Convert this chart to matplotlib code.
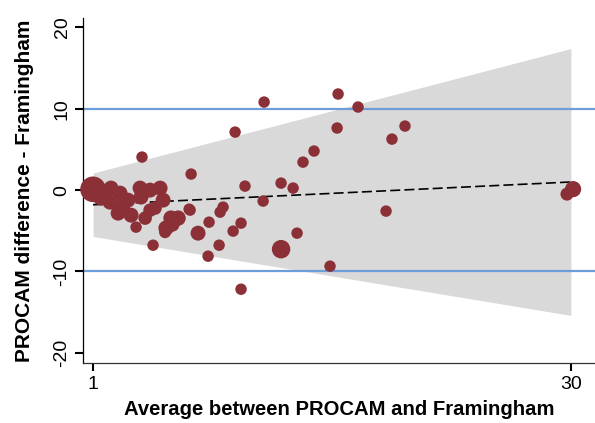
import numpy as np
import matplotlib
matplotlib.use("Agg")
import matplotlib.pyplot as plt

plt.rcParams['font.family'] = ['Liberation Sans', 'DejaVu Sans']
plt.rcParams['axes.unicode_minus'] = False

# average (x) and difference (y) for each subject, s = weight of the marker
media = [1.0, 1.49, 2.09, 2.64, 2.03, 3.12, 2.52, 2.82, 3.31, 3.85,
         3.91, 4.46, 5.07, 5.25, 3.61, 4.16, 4.46, 4.76, 5.73, 5.43,
         3.97, 6.95, 4.64, 6.16, 5.79, 5.37, 6.89, 7.37,
         10.22, 12.41, 13.14, 13.74, 14.41, 11.32, 6.83, 8.89, 8.71, 8.04,
         9.98, 9.50, 13.38, 8.65, 7.98, 12.41, 9.98, 15.38, 18.78, 11.38,
         15.87, 17.08, 9.62, 15.81, 19.93, 19.14, 29.76, 30.13]
diferenca = [0.1, -0.86, 0.25, -0.37, -1.48, -1.23, -2.83, -1.85, -3.08, 0.25,
             -0.86, 0.0, 0.25, -1.23, -4.55, -3.44, -2.46, -2.21, -3.44, -4.67,
             4.06, 1.97, -6.77, -3.44, -4.18, -5.17, -2.46, -5.29,
             0.49, 0.86, 0.25, 3.44, 4.80, -1.35, -2.34, -2.09, -2.71, -3.94,
             -4.06, -5.04, -5.29, -6.77, -8.12, -7.26, -12.18, -9.35, -2.58, 10.82,
             11.81, 10.21, 7.13, 7.63, 7.87, 6.27, -0.49, 0.12]
peso = [5.0, 2.2, 1.7, 1.7, 1.7, 1.7, 1.7, 1.7, 1.7, 1.7,
        1.7, 1.7, 1.7, 1.7, 1, 1.4, 1.4, 1.4, 1.8, 1.8,
        1, 1, 1, 1.8, 1.8, 1.1, 1, 1.7,
        1, 1, 1, 1, 1, 1, 1, 1, 1, 1,
        1, 1, 1, 1, 1, 2.6, 1, 1, 1, 1,
        1, 1, 1, 1, 1, 1, 1.3, 2.0]

# limites de concordancia (regressao) e linha de tendencia
lim_x = [1, 30]
lim_sup = [2.1, 17.4]
lim_inf = [-5.7, -15.4]
tendencia = [-1.8, 1.0]
limites_fixos = [-10, 10]


def main():
    fig = plt.figure(figsize=(5.95, 4.23), dpi=100)
    ax = fig.add_axes([0.1395, 0.1418, 0.8605, 0.8156])

    ax.fill_between(lim_x, lim_inf, lim_sup, color='#d9d9d9', lw=0, zorder=1)
    for v in limites_fixos:
        ax.axhline(v, color='#6d9ed9', lw=1.6, zorder=2)
    ax.plot(lim_x, tendencia, color='black', lw=1.2, ls=(0, (6, 2.5)), zorder=3)
    ax.scatter(media, diferenca, s=[68 * p for p in peso], color='#8b3036',
               edgecolors='none', zorder=4, clip_on=False)

    ax.set_xlim(0.39, 31.46)
    ax.set_ylim(-21.25, 21.15)
    ax.set_xticks([1, 30])
    ax.set_yticks([-20, -10, 0, 10, 20])
    ax.tick_params(axis='both', length=6, width=1.5, labelsize=14, color='black')
    ax.tick_params(axis='y', labelrotation=90, pad=3)
    for lab in ax.get_yticklabels():
        lab.set_va('center')
    ax.spines['top'].set_visible(False)
    ax.spines['right'].set_visible(False)
    ax.spines['left'].set_linewidth(0.9)
    ax.spines['bottom'].set_linewidth(0.9)
    ax.spines['bottom'].set_color('#333333')

    ax.set_xlabel('Average between PROCAM and Framingham', fontsize=14.6,
                  fontweight='bold', labelpad=5)
    ax.set_ylabel('PROCAM difference - Framingham', fontsize=15,
                  fontweight='bold', labelpad=14)

    fig.savefig('out.png', dpi=100)


if __name__ == "__main__":
    main()
